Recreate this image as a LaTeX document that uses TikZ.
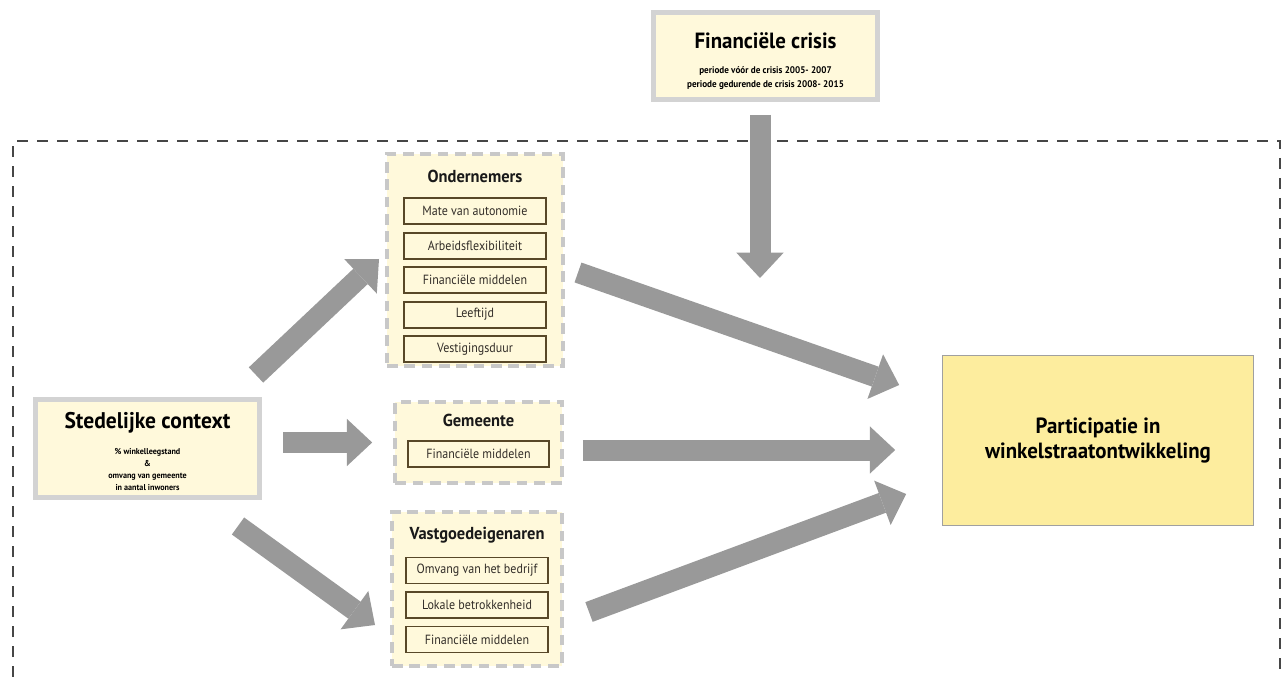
\documentclass[tikz,border=0pt]{standalone}
\usepackage{fontspec}
\setmainfont{PT Sans}
\newfontfamily\headfont[FakeStretch=0.95]{PT Sans}
\newfontfamily\itemfont[FakeStretch=0.9]{PT Sans}
\usepackage{tikz}
\usetikzlibrary{positioning,arrows.meta}

\definecolor{cream}{RGB}{255,249,219}
\definecolor{boxgray}{RGB}{211,211,211}
\definecolor{groupgray}{RGB}{200,200,200}
\definecolor{itembrown}{RGB}{88,72,40}
\definecolor{itemtext}{RGB}{50,45,40}
\definecolor{partyellow}{RGB}{253,237,158}
\definecolor{partgray}{RGB}{160,160,160}
\definecolor{arrowgray}{RGB}{153,153,153}
\definecolor{framegray}{RGB}{70,70,70}

\newcommand\titlefont{\headfont\bfseries\fontsize{16.5}{20}\selectfont}
\newcommand\stadfont{\headfont\bfseries\fontsize{17}{20}\selectfont}
\newcommand\subfont{\headfont\bfseries\fontsize{7.2}{10}\selectfont}
\newcommand\tinyfont{\headfont\bfseries\fontsize{6.4}{9}\selectfont}
\newcommand\partfont{\headfont\bfseries\fontsize{16.5}{18.75}\selectfont}

\begin{document}
\begin{tikzpicture}
    [ x = .75pt, y = -.75pt
    , box/.style =
      { draw=boxgray, line width=3.75pt, fill=cream, align=center, inner sep=0pt }
    , group/.style =
      { draw=groupgray, line width=3pt, dash pattern=on 8pt off 5pt, fill=cream, inner sep=0pt }
    , grouptitle/.style =
      { font=\headfont\bfseries\fontsize{13}{15}\selectfont, inner sep=0pt, text=black!90 }
    , item/.style =
      { draw=itembrown, line width=1.4pt, fill=cream, minimum width=106pt, minimum height=19.5pt
      , inner sep=0pt, font=\itemfont\fontsize{10}{12}\selectfont, text=itemtext }
    , flow/.style =
      { draw=arrowgray, line width=15.75pt, -{Triangle[length=19pt, width=35.5pt, line width=0pt]} }
    , frame/.style =
      { draw=framegray, line width=1.1pt, dash pattern=on 8.25pt off 6.75pt }
    ]
    \useasboundingbox (0,0) rectangle (1288,677);
    \draw [frame] (13,677) |- (1280,141) -- (1280,677);

    \node [box, font=\subfont, minimum width=168pt, minimum height=65.25pt] (crisis) at (765.5,56)
      {\titlefont\rule{0pt}{19.5pt}Financiële crisis\\[8.75pt]
       \subfont periode vóór de crisis 2005- 2007\\
       \subfont periode gedurende de crisis 2008- 2015};
    \node [box, font=\tinyfont, minimum width=168pt, minimum height=73.5pt] (stad) at (147.5,448.5)
      {\stadfont\rule{0pt}{17pt}Stedelijke context\\[10.5pt]
       \tinyfont \% winkelleegstand\\
       \tinyfont \&\\
       \tinyfont omvang van gemeente\\
       \tinyfont in aantal inwoners};
    \node [box, font=\partfont, draw=partgray, line width=.75pt, fill=partyellow, minimum width=233pt, minimum height=127.5pt] (part) at (1098,440.5)
      {Participatie in\\ winkelstraatontwikkeling};

    \node [group, minimum width=132pt, minimum height=159pt] (ond) at (475,260) {};
    \node [grouptitle] (ondtitle) [below=13.5pt of ond.north] {Ondernemers};
    \node [item] (ond1) [below=10.5pt of ondtitle] {Mate van autonomie};
    \node [item] (ond2) [below=5pt of ond1] {Arbeidsflexibiliteit};
    \node [item] (ond3) [below=5pt of ond2] {Financiële middelen};
    \node [item] (ond4) [below=5pt of ond3] {Leeftijd};
    \node [item] (ond5) [below=5pt of ond4] {Vestigingsduur};

    \node [group, minimum width=125pt, minimum height=61pt] (gem) at (478.5,442.5) {};
    \node [grouptitle] (gemtitle) [below=10.5pt of gem.north] {Gemeente};
    \node [item] (gem1) [below=10pt of gemtitle] {Financiële middelen};

    \node [group, minimum width=127.5pt, minimum height=115.5pt] (vast) at (477,589) {};
    \node [grouptitle] (vasttitle) [below=12.5pt of vast.north] {Vastgoedeigenaren};
    \node [item] (vast1) [below=10pt of vasttitle] {Omvang van het bedrijf};
    \node [item] (vast2) [below=5pt of vast1] {Lokale betrokkenheid};
    \node [item] (vast3) [below=5pt of vast2] {Financiële middelen};

    \coordinate (crisistip) at (760,278);

    \draw [flow, shorten <=9.75pt] (crisis.south -| crisistip) -- (crisistip);
    \draw [flow] ([shift={(-6,-22)}]stad.north east) -- ([shift={(-6,-1)}]ond.west);
    \draw [flow, shorten <=15.75pt, shorten >=15.75pt] (stad.east |- gem.west) -- (gem.west);
    \draw [flow] ([shift={(-24,26)}]stad.south east) -- ([shift={(-15,36)}]vast.west);
    \draw [flow] ([shift={(13,12.5)}]ond.east) -- ([shift={(-43,-55.5)}]part.west);
    \draw [flow] ([shift={(19,7.5)}]gem.east) -- ([shift={(-47,9.5)}]part.west);
    \draw [flow] ([shift={(25,23)}]vast.east) -- ([shift={(-36,53.5)}]part.west);
  \end{tikzpicture}
\end{document}
